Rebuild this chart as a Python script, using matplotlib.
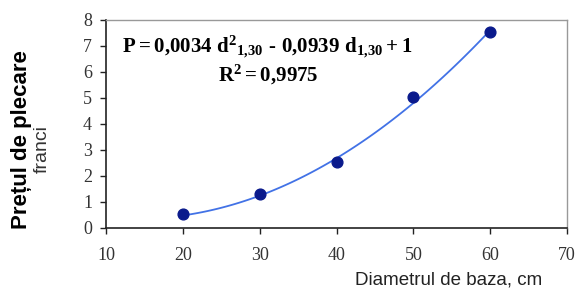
import numpy as np
import matplotlib
matplotlib.use("Agg")
import matplotlib.pyplot as plt

# date
diametru = [20, 30, 40, 50, 60]
pret = [0.55, 1.3, 2.52, 5.02, 7.55]

# coeficienti trend polinomial (din ecuatia afisata)
coef = [0.0034, -0.0939, 1.0]

plt.rcParams.update({
    "font.family": "Liberation Sans",
    "mathtext.fontset": "custom",
    "mathtext.rm": "Liberation Serif:bold",
    "mathtext.bf": "Liberation Serif:bold",
    "mathtext.it": "Liberation Serif:bold",
})

fig = plt.figure(figsize=(5.78, 2.88), dpi=100, facecolor="white")
ax = fig.add_axes([106 / 578, 1 - 228 / 288, (567 - 106) / 578, (228 - 20) / 288])

d = np.linspace(20, 60, 100)
ax.plot(d, np.polyval(coef, d), color="#4272e6", linewidth=1.3, zorder=2)
ax.scatter(diametru, pret, s=60, color="#0a1a8c", zorder=3)

ax.set_xlim(10, 70)
ax.set_ylim(0, 8)
ax.set_xticks(range(10, 71, 10))
ax.set_yticks(range(0, 9))
ax.tick_params(direction="out", length=4, width=1, labelsize=13,
               labelcolor="#333333", color="#222222")
ax.tick_params(axis="x", pad=10)
ax.tick_params(axis="y", pad=6)
for lbl in ax.get_xticklabels() + ax.get_yticklabels():
    lbl.set_fontfamily("Liberation Serif")

for s in ["top", "right"]:
    ax.spines[s].set_color("#999999")
    ax.spines[s].set_linewidth(1)
for s in ["left", "bottom"]:
    ax.spines[s].set_color("#222222")
    ax.spines[s].set_linewidth(1.2)

eq = (r"$\mathrm{P = 0{,}0034\ d^{2}{}_{1{,}30}\ \text{-}\ 0{,}0939\ d_{1{,}30} + 1}$")
fig.text(267 / 578, 1 - 47 / 288, eq, fontsize=15, ha="center", va="center")
fig.text(268 / 578, 1 - 75 / 288, r"$\mathrm{R^{2} = 0{,}9975}$",
         fontsize=15, ha="center", va="center")

fig.text(22 / 578, 1 - 140 / 288, "Prețul de plecare", rotation=90,
         fontsize=16, fontweight="bold", ha="center", va="center")
fig.text(42 / 578, 1 - 149 / 288, "franci", rotation=90,
         fontsize=14, color="#333333", ha="center", va="center")
fig.text(449 / 578, 1 - 280 / 288, "Diametrul de baza, cm",
         fontsize=13.5, color="#222222", ha="center", va="center")

fig.savefig("out.png", dpi=100, facecolor="white")
